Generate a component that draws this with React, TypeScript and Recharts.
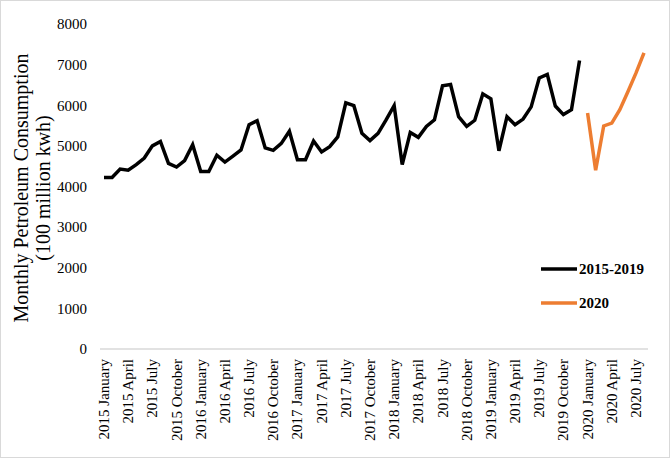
import React from "react";
import { LineChart, Line, XAxis, YAxis, Label } from "recharts";

const years = [2015, 2016, 2017, 2018, 2019, 2020];
const monthNames = [
  "January", "February", "March", "April", "May", "June",
  "July", "August", "September", "October", "November", "December",
];
const allMonths: string[] = [];
years.forEach((y) => monthNames.forEach((m) => allMonths.push(`${y} ${m}`)));
// 2015 January .. 2020 August
const months = allMonths.slice(0, 68);

// Monthly petroleum consumption, 100 million kwh
const consumption2015to2019 = [
  4220, 4220, 4430, 4400, 4540, 4700, 5000, 5110, 4570, 4480, 4640, 5030,
  4370, 4370, 4770, 4600, 4750, 4900, 5520, 5620, 4950, 4890, 5060, 5360,
  4660, 4660, 5120, 4850, 4980, 5220, 6060, 5990, 5310, 5130, 5310, 5640,
  5990, 4540, 5330, 5210, 5480, 5640, 6480, 6510, 5720, 5480, 5630, 6280,
  6160, 4880, 5720, 5520, 5660, 5960, 6670, 6760, 5980, 5770, 5890, 7100,
];
const consumption2020 = [5810, 4400, 5490, 5560, 5890, 6330, 6790, 7290];

const yTicks = [0, 1000, 2000, 3000, 4000, 5000, 6000, 7000, 8000];

const seriesInfo = [
  { key: "s1519", name: "2015-2019", color: "#000000" },
  { key: "s2020", name: "2020", color: "#ED7D31" },
];

const data = months.map((month, i) => ({
  month,
  s1519: i < consumption2015to2019.length ? consumption2015to2019[i] : null,
  s2020: i >= consumption2015to2019.length ? consumption2020[i - consumption2015to2019.length] : null,
}));

const FONT = "'Liberation Serif', 'Times New Roman', serif";

const MonthTick = (props: any) => {
  const { x, y, payload } = props;
  return (
    <text
      transform={`translate(${x},${y + 8}) rotate(-90)`}
      textAnchor="end"
      dominantBaseline="central"
      fontSize={15}
      fontFamily={FONT}
      fill="#000"
    >
      {payload.value}
    </text>
  );
};

// legend drawn as an overlay so it doesn't take space from the plot
const ChartLegend = () => (
  <div
    style={{
      position: "absolute",
      left: 540,
      top: 251,
      fontFamily: FONT,
      fontWeight: 700,
      fontSize: 15,
      color: "#000",
    }}
  >
    {seriesInfo.map((s) => (
      <div key={s.key} style={{ display: "flex", alignItems: "center", height: 34 }}>
        <svg width={36} height={6} style={{ marginRight: 2 }}>
          <line x1={0} y1={3} x2={36} y2={3} stroke={s.color} strokeWidth={3.5} />
        </svg>
        <span>{s.name}</span>
      </div>
    ))}
  </div>
);

const YTitle = () => (
  <text transform="translate(0,187) rotate(-90)" textAnchor="middle" fontSize={20} fontFamily={FONT} fill="#000">
    <tspan x={0} y={27}>Monthly Petroleum Consumption</tspan>
    <tspan x={0} y={49}>(100 million kwh)</tspan>
  </text>
);

export default function App() {
  return (
    <div
      style={{
        position: "absolute",
        left: 0,
        top: 0,
        width: 670,
        height: 458,
        border: "1px solid #d9d9d9",
        boxSizing: "border-box",
        background: "#fff",
      }}
    >
      <LineChart width={668} height={456} data={data} margin={{ top: 23, right: 21, left: 0, bottom: 0 }}>
        <XAxis
          dataKey="month"
          interval={2}
          tickLine={false}
          tickSize={0}
          axisLine={{ stroke: "#d9d9d9", strokeWidth: 1.5 }}
          height={108}
          padding={{ left: 4, right: 4 }}
          tick={<MonthTick />}
        />
        <YAxis
          width={99}
          domain={[0, 8000]}
          ticks={yTicks}
          tickLine={false}
          axisLine={false}
          tickSize={0}
          tickMargin={13}
          tick={{ fontSize: 15, fill: "#000", fontFamily: FONT }}
        >
          <Label content={<YTitle />} />
        </YAxis>
        {seriesInfo.map((s) => (
          <Line
            key={s.key}
            type="linear"
            dataKey={s.key}
            name={s.name}
            stroke={s.color}
            strokeWidth={3.5}
            dot={false}
            activeDot={false}
            connectNulls={false}
            isAnimationActive={false}
          />
        ))}
      </LineChart>
      <ChartLegend />
    </div>
  );
}
